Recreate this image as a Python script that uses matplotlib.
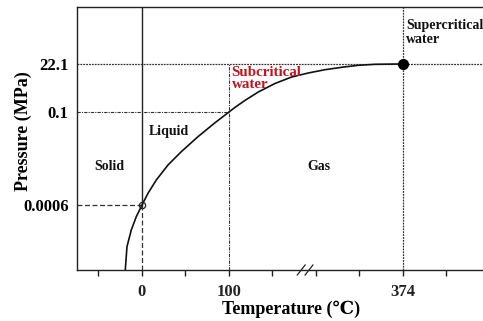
import matplotlib
matplotlib.use("Agg")
import matplotlib.pyplot as plt

# ---- data (schematic phase diagram, axis units are schematic slots) ----
curve_x = [-0.384, -0.345, -0.246, -0.131, 0.0, 0.138, 0.329, 0.598, 0.903,
           1.287, 1.671, 2.0, 2.138, 2.368, 2.674, 3.057, 3.441, 3.823,
           4.207, 4.591, 4.972, 5.356, 5.892, 6.0]
curve_y = [0, 23.3, 40, 53.3, 65, 76.7, 90, 105, 118.3,
           133.3, 147.0, 158, 162.6, 169.6, 178.0, 186.5, 193, 197,
           200.3, 202.7, 204.7, 205.7, 206, 206]

triple_x, triple_y = 0.0, 65        # 0 °C, 0.0006 MPa
boil_x, boil_y = 2.0, 158           # 100 °C, 0.1 MPa
crit_x, crit_y = 6.0, 206           # 374 °C, 22.1 MPa

xtick_pos = [-1, 0, 1, 2, 3, 4, 5, 6, 7]
xtick_labels = ["", "0", "", "100", "", "", "", "374", ""]
ytick_pos = [65, 158, 206]
ytick_labels = ["0.0006", "0.1", "22.1"]

region_labels = ["Solid", "Liquid", "Gas"]
region_x = [-0.76, 0.61, 4.07]
region_y = [103, 139, 103]

XMIN, XMAX = -1.494, 7.84
YMIN, YMAX = 0, 263

serif = ["Liberation Serif", "DejaVu Serif"]
plt.rcParams["font.family"] = serif

fig = plt.figure(figsize=(4.83, 3.21), dpi=100)
ax = fig.add_axes([77/483, 1 - 270/321, 1 - 77/483, 263/321])
ax.set_xlim(XMIN, XMAX)
ax.set_ylim(YMIN, YMAX)

for s in ["top", "left", "bottom"]:
    ax.spines[s].set_linewidth(1.0)
    ax.spines[s].set_color("#222222")
ax.spines["right"].set_visible(False)

# guide lines
gc = "#333333"
ax.plot([XMIN, XMAX], [crit_y, crit_y], color=gc, lw=0.9, ls=(0, (1.5, 0.8)))
ax.plot([crit_x, crit_x], [YMIN, YMAX], color=gc, lw=0.9, ls=(0, (1.5, 0.8)))
ax.plot([XMIN, boil_x], [boil_y, boil_y], color=gc, lw=0.8, ls=(0, (3, 1, 1, 1)))
ax.plot([boil_x, boil_x], [YMIN, crit_y], color=gc, lw=0.8, ls=(0, (3, 1, 1, 1)))
ax.plot([triple_x, triple_x], [triple_y, YMAX], color="#222222", lw=1.0)
ax.plot([triple_x, triple_x], [YMIN, triple_y], color=gc, lw=0.9, ls=(0, (4, 2)))
ax.plot([XMIN, triple_x], [triple_y, triple_y], color=gc, lw=0.9, ls=(0, (4, 2)))

# phase boundary curve
ax.plot(curve_x, curve_y, color="#111111", lw=1.2, solid_joinstyle="round")

# points
ax.plot([triple_x], [triple_y], marker="o", ms=4.5, mfc="none", mec="#222222", mew=0.9)
ax.plot([crit_x], [crit_y], marker="o", ms=7, color="black")

# ticks
ax.set_xticks(xtick_pos)
ax.set_xticklabels(xtick_labels, fontsize=12, fontweight="bold")
ax.tick_params(axis="x", direction="out", length=4, width=1.0, pad=6, colors="#222222")
ax.set_yticks(ytick_pos)
ax.set_yticklabels(ytick_labels, fontsize=12, fontweight="bold")
ax.tick_params(axis="y", length=0, pad=6)

# axis break mark
for dx in (-0.09, 0.09):
    cx = 3.75 + dx
    ax.plot([cx - 0.09, cx + 0.09], [-5, 5], color="#222222", lw=0.9, clip_on=False)

# labels
ax.set_xlabel("Temperature (℃)", fontsize=13, fontweight="bold")
ax.xaxis.set_label_coords(0.527, -0.115)
ax.set_ylabel("Pressure (MPa)", fontsize=13, fontweight="bold")
ax.yaxis.set_label_coords(-0.112, 0.528)

for t, x, y in zip(region_labels, region_x, region_y):
    ax.text(x, y, t, fontsize=10, fontweight="bold", ha="center", va="center", color="#111111")

ax.text(2.06, 191.5, "Subcritical\nwater", fontsize=10.8, fontweight="bold",
        color="#c0151f", ha="left", va="center", linespacing=0.95)
ax.text(6.08, 237.3, "Supercritical\nwater", fontsize=10, fontweight="bold",
        color="#111111", ha="left", va="center", linespacing=1.05)

fig.savefig("out.png", dpi=100)
